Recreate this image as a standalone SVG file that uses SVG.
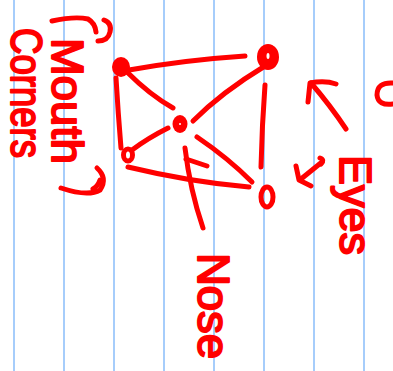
<svg xmlns="http://www.w3.org/2000/svg" width="393" height="371" viewBox="0 0 393 371">
<style>
.rule{stroke:#a6cdfb;stroke-width:2}
.ink{fill:none;stroke:#ff0000;stroke-width:5;stroke-linecap:round;stroke-linejoin:round}
.lbl{fill:#ff0000;stroke:#ff0000;stroke-width:2;stroke-linejoin:round;font-family:"Liberation Sans",Arial,sans-serif;font-size:44px}
</style>
<rect width="393" height="371" fill="#ffffff"/>
<g id="paper">
<line class="rule" x1="14" y1="0" x2="14" y2="371"/>
<line class="rule" x1="64" y1="0" x2="64" y2="371"/>
<line class="rule" x1="114" y1="0" x2="114" y2="371"/>
<line class="rule" x1="164" y1="0" x2="164" y2="371"/>
<line class="rule" x1="214" y1="0" x2="214" y2="371"/>
<line class="rule" x1="264" y1="0" x2="264" y2="371"/>
<line class="rule" x1="314" y1="0" x2="314" y2="371"/>
<line class="rule" x1="364" y1="0" x2="364" y2="371"/>
</g>
<g id="connectors">
<path class="ink" d="M129,70 Q185,60 245,56"/>
<path class="ink" d="M127,72 Q150,95 173,108"/>
<path class="ink" d="M116,78 Q118,112 121,148"/>
<path class="ink" d="M265,66 Q222,92 193,121"/>
<path class="ink" d="M265,85 Q262,125 261,167"/>
<path class="ink" d="M168,128 Q148,138 132,150"/>
<path class="ink" d="M197,137 Q228,158 252,182"/>
<path class="ink" d="M128,167 Q190,182 249,187"/>
</g>
<g id="node-a"><ellipse cx="121" cy="67" rx="9" ry="10" fill="#ff0000"/></g>
<g id="node-b"><ellipse cx="268" cy="57" rx="11" ry="13" fill="#ff0000"/><ellipse cx="268" cy="56" rx="1.5" ry="3" fill="#ffffff"/></g>
<g id="node-c"><ellipse cx="180" cy="124" rx="7.5" ry="9" fill="#ff0000"/><circle cx="180" cy="124" r="1" fill="#ffffff"/></g>
<g id="node-d"><ellipse cx="128" cy="155" rx="4.5" ry="6" class="ink" stroke-width="4"/></g>
<g id="node-e"><ellipse cx="267" cy="197" rx="6" ry="10" class="ink" stroke-width="7.5"/></g>
<g id="annotations">
<path class="ink" d="M185,148 Q190,190 203,228"/>
<path class="ink" d="M186,159 L207,166"/>
<path class="ink" d="M346,129 Q330,105 311,83"/>
<path class="ink" d="M308,102 L310,83 Q325,80 336,84"/>
<path class="ink" d="M322,162 L301,179"/>
<path class="ink" d="M296,166 L299,180 L311,186"/>
<path class="ink" d="M320,158 Q325,160 321,164"/>
<path class="ink" d="M393,83 Q377,82 377,95 Q378,106 393,104"/>
<path class="ink" d="M52,21 Q75,16 88,19 Q95,23 96,32"/>
<path class="ink" d="M104,20 Q112,23 110,32 Q108,41 98,41"/>
<path class="ink" d="M97,168 Q108,178 100,190 Q88,197 61,188"/>
<path class="ink" d="M100,180 Q98,186 93,189"/>
<text class="lbl" transform="translate(52,38) rotate(90)" font-size="50" textLength="126" lengthAdjust="spacingAndGlyphs">Mouth</text>
<text class="lbl" transform="translate(11,28) rotate(90)" font-size="46" textLength="130" lengthAdjust="spacingAndGlyphs">Corners</text>
<text class="lbl" transform="translate(340,155) rotate(90)" textLength="100" lengthAdjust="spacingAndGlyphs">Eyes</text>
<text class="lbl" transform="translate(198,253) rotate(90)" font-size="50" textLength="106" lengthAdjust="spacingAndGlyphs">Nose</text>
</g>
</svg>
